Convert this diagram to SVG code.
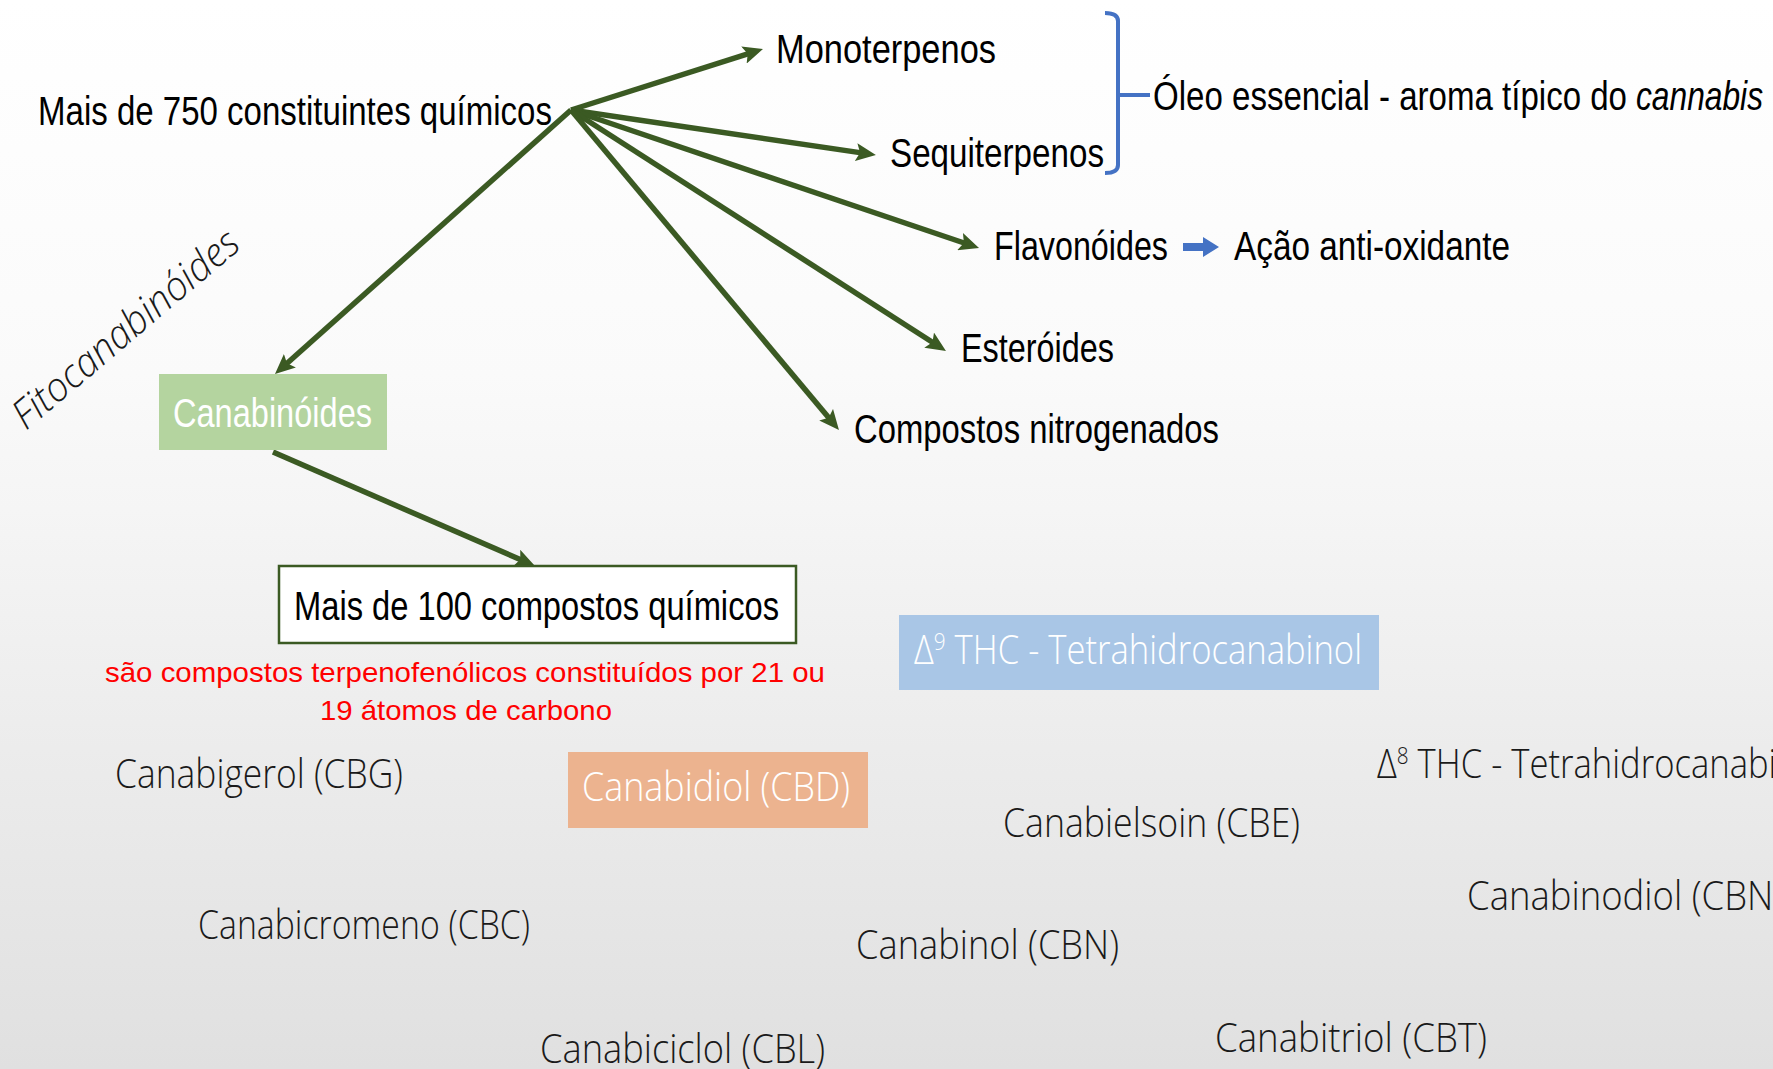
<svg xmlns="http://www.w3.org/2000/svg" width="1773" height="1069" viewBox="0 0 1773 1069">
<defs>
<linearGradient id="bg" x1="0" y1="0" x2="0" y2="1">
<stop offset="0" stop-color="#ffffff"/>
<stop offset="0.35" stop-color="#fafafa"/>
<stop offset="1" stop-color="#e0e0e0"/>
</linearGradient>
<marker id="ah" viewBox="0 0 20 18" refX="9" refY="9" markerWidth="20" markerHeight="18" markerUnits="userSpaceOnUse" orient="auto">
<path d="M0,0 L20,9 L0,18 L4,9 z" fill="#3b5a23"/>
</marker>
<style>
.t{font-family:"Liberation Sans Narrow","Liberation Sans",Arial,sans-serif;font-size:40px;fill:#000}
.w{fill:#fff}
.r{font-family:"Liberation Sans",Arial,sans-serif;font-size:28px;fill:#ff0000}
.h{font-family:"Open Sans","DejaVu Sans",sans-serif;font-weight:300;font-size:40px;fill:#1a1a1a}
.hw{fill:#ffffff}
.c{stroke:#3b5a23;stroke-width:5.5;fill:none;marker-end:url(#ah)}
</style>
</defs>
<rect x="0" y="0" width="1773" height="1069" fill="url(#bg)"/>

<g id="connectors">
<line class="c" x1="571" y1="110" x2="752.5" y2="52.3"/>
<line class="c" x1="571" y1="110" x2="865" y2="153.4"/>
<line class="c" x1="571" y1="110" x2="968.6" y2="244.5"/>
<line class="c" x1="571" y1="110" x2="936.7" y2="345"/>
<line class="c" x1="571" y1="110" x2="831.9" y2="421.6"/>
<line class="c" x1="571" y1="110" x2="283.2" y2="366.7"/>
<line class="c" x1="273" y1="452" x2="524.9" y2="561.6"/>
<path id="brace" d="M1105,13 Q1118,13 1118,21 L1118,165 Q1118,173 1105,173 M1118,95 L1150,95" fill="none" stroke="#4472c4" stroke-width="4"/>
<polygon id="blue-arrow" points="1183,243 1203,243 1203,237 1219,247 1203,257 1203,251 1183,251" fill="#4472c4"/>
</g>

<g id="root"><text class="t" x="38" y="125" textLength="514" lengthAdjust="spacingAndGlyphs">Mais de 750 constituintes químicos</text></g>
<g id="monoterpenos"><text class="t" x="776" y="63" textLength="220" lengthAdjust="spacingAndGlyphs">Monoterpenos</text></g>
<g id="sequiterpenos"><text class="t" x="890" y="167" textLength="214" lengthAdjust="spacingAndGlyphs">Sequiterpenos</text></g>
<g id="oleo">
<text class="t" x="1153" y="110" textLength="474" lengthAdjust="spacingAndGlyphs">Óleo essencial  - aroma típico do</text>
<text class="t" font-style="italic" x="1636" y="110" textLength="127" lengthAdjust="spacingAndGlyphs">cannabis</text>
</g>
<g id="flavonoides"><text class="t" x="994" y="260" textLength="174" lengthAdjust="spacingAndGlyphs">Flavonóides</text></g>
<g id="acao"><text class="t" x="1234" y="260" textLength="276" lengthAdjust="spacingAndGlyphs">Ação anti-oxidante</text></g>
<g id="esteroides"><text class="t" x="961" y="362" textLength="153" lengthAdjust="spacingAndGlyphs">Esteróides</text></g>
<g id="nitrogenados"><text class="t" x="854" y="443" textLength="365" lengthAdjust="spacingAndGlyphs">Compostos nitrogenados</text></g>

<g id="canabinoides">
<rect x="159" y="374" width="228" height="76" fill="#b4d49f"/>
<text class="t w" x="173" y="427" textLength="199" lengthAdjust="spacingAndGlyphs">Canabinóides</text>
</g>
<g id="fitocanabinoides"><text class="h" font-style="italic" font-size="30" x="26" y="431" transform="rotate(-40.3 26 431)" textLength="284" lengthAdjust="spacingAndGlyphs">Fitocanabinóides</text></g>

<g id="mais100">
<rect x="279" y="566" width="517" height="77" fill="#ffffff" stroke="#3b5a23" stroke-width="2.5"/>
<text class="t" x="294" y="620" textLength="485" lengthAdjust="spacingAndGlyphs">Mais de 100 compostos químicos</text>
</g>
<g id="nota">
<text class="r" x="105" y="682" textLength="720" lengthAdjust="spacingAndGlyphs">são compostos terpenofenólicos constituídos por 21 ou</text>
<text class="r" x="320" y="720" textLength="292" lengthAdjust="spacingAndGlyphs">19 átomos de carbono</text>
</g>

<g id="thc9">
<rect x="899" y="615" width="480" height="75" fill="#a9c6e6"/>
<text class="h hw" x="914" y="664" textLength="448" lengthAdjust="spacingAndGlyphs">Δ<tspan font-size="24" dy="-14">9</tspan><tspan dy="14"> THC - Tetrahidrocanabinol</tspan></text>
</g>
<g id="cbd">
<rect x="568" y="752" width="300" height="76" fill="#ecb38f"/>
<text class="h hw" x="582" y="801" textLength="268" lengthAdjust="spacingAndGlyphs">Canabidiol (CBD)</text>
</g>
<g id="cbg"><text class="h" x="115" y="788" textLength="288" lengthAdjust="spacingAndGlyphs">Canabigerol (CBG)</text></g>
<g id="thc8"><text class="h" x="1377" y="778" textLength="448" lengthAdjust="spacingAndGlyphs">Δ<tspan font-size="24" dy="-14">8</tspan><tspan dy="14"> THC - Tetrahidrocanabinol</tspan></text></g>
<g id="cbe"><text class="h" x="1003" y="837" textLength="297" lengthAdjust="spacingAndGlyphs">Canabielsoin (CBE)</text></g>
<g id="cbnd"><text class="h" x="1467" y="910" textLength="342" lengthAdjust="spacingAndGlyphs">Canabinodiol (CBND)</text></g>
<g id="cbc"><text class="h" x="198" y="939" textLength="332" lengthAdjust="spacingAndGlyphs">Canabicromeno (CBC)</text></g>
<g id="cbn"><text class="h" x="856" y="959" textLength="263" lengthAdjust="spacingAndGlyphs">Canabinol (CBN)</text></g>
<g id="cbl"><text class="h" x="540" y="1063" textLength="285" lengthAdjust="spacingAndGlyphs">Canabiciclol (CBL)</text></g>
<g id="cbt"><text class="h" x="1215" y="1052" textLength="272" lengthAdjust="spacingAndGlyphs">Canabitriol (CBT)</text></g>
</svg>
